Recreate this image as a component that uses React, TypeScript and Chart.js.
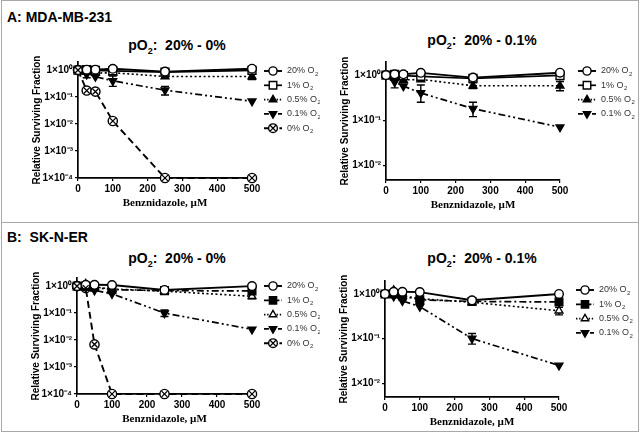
import React, { useEffect, useRef } from 'react';
import { Chart, registerables } from 'chart.js';
import { drawPoint } from 'chart.js/helpers';

Chart.register(...registerables);

// ---------- data ----------
const doses = [0, 25, 50, 100, 250, 500];
const xTicks = [0, 100, 200, 300, 400, 500];
const yTicksWide = [1e-4, 1e-3, 1e-2, 1e-1, 1];
const yTickTextWide = ['1×10⁻⁴', '1×10⁻³', '1×10⁻²', '1×10⁻¹', '1×10⁰'];
const yTicksNarrow = [1e-2, 1e-1, 1];
const yTickTextNarrow = ['1×10⁻²', '1×10⁻¹', '1×10⁰'];

const seriesLabels = ['20% O', '1% O', '0.5% O', '0.1% O', '0% O'];

// MDA-MB-231
const mda20 = [1.0, 1.04, 1.04, 1.12, 0.88, 1.13];
const mda1 = [1.0, 1.03, 0.97, 0.94, 0.84, 0.98];
const mda05 = [1.0, 0.86, 0.78, 0.8, 0.58, 0.58];
const mda01 = [1.0, 0.7, 0.57, 0.4, 0.18, 0.07];
const mda01Lo = [null, 0.52, null, 0.25, 0.12, null];
const mda01Hi = [null, 0.98, null, 0.6, 0.25, null];
const mda05Lo = [null, null, null, null, 0.5, 0.45];
const mda05Hi = [null, null, null, null, 0.68, 0.72];
const mda0 = [1.0, 0.175, 0.16, 0.013, 1e-4, 1e-4];

// SK-N-ER
const sk20 = [1.0, 1.12, 1.12, 1.1, 0.72, 1.0];
const sk1 = [1.0, 1.0, 0.9, 0.74, 0.68, 0.66];
const sk1Lo = [null, null, null, null, null, 0.56];
const sk1Hi = [null, null, null, null, null, 0.8];
const sk05 = [1.0, 1.2, 0.92, 0.78, 0.65, 0.42];
const sk05Lo = [null, null, null, null, null, 0.34];
const sk05Hi = [null, null, null, null, null, 0.5];
const sk01 = [1.0, 0.88, 0.7, 0.52, 0.1, 0.025];
const sk01Lo = [null, null, null, null, 0.075, null];
const sk01Hi = [null, null, null, null, 0.13, null];
const sk0 = [1.0, 0.85, 0.0069, 1e-4, 1e-4, 1e-4];

const panelLetterA = 'A: MDA-MB-231';
const panelLetterB = 'B:  SK-N-ER';
const titleLeft = ':  20% - 0%';
const titleRight = ':  20% - 0.1%';
const xTitle = 'Benznidazole, µM';
const yTitle = 'Relative Surviving Fraction';

// ---------- styles ----------
const FONT = 'Arial, "Liberation Sans", Helvetica, sans-serif';
const SERIF = '"Times New Roman", "Liberation Serif", serif';

type Style = { point: any; fill: string; dash: number[]; radius: number; rotation?: number; width: number; cross?: boolean };
const stC20: Style = { point: 'circle', fill: '#fff', dash: [], radius: 4.3, width: 1.9 };
const stSqA: Style = { point: 'rect', fill: '#fff', dash: [], radius: 5.6, width: 1.7 };
const stSqB: Style = { point: 'rect', fill: '#000', dash: [7, 3, 2, 3], radius: 5.4, width: 1.7 };
const stTriA: Style = { point: 'triangle', fill: '#000', dash: [2, 2.5], radius: 4.5, width: 1.6 };
const stTriB: Style = { point: 'triangle', fill: '#fff', dash: [2, 2.5], radius: 4.5, width: 1.6 };
const stInv: Style = { point: 'triangle', fill: '#000', dash: [7, 3, 2, 3, 2, 3], radius: 4.5, rotation: 180, width: 1.7 };
const stX0: Style = { point: 'circle', fill: '#fff', dash: [7, 4], radius: 4.6, width: 1.9, cross: true };

type Series = { label: string; data: number[]; st: Style; lo?: (number | null)[]; hi?: (number | null)[] };

type PanelCfg = {
  left: number; top: number; w: number; h: number;
  padTop: number; padRight: number; yW: number; xH: number;
  yMin: number; yMax: number; yTicks: number[]; yLabels: string[];
  legDx: number; legDy: number; series: Series[];
};

const mdaBase: Series[] = [
  { label: seriesLabels[0], data: mda20, st: stC20 },
  { label: seriesLabels[1], data: mda1, st: stSqA },
  { label: seriesLabels[2], data: mda05, st: stTriA, lo: mda05Lo, hi: mda05Hi },
  { label: seriesLabels[3], data: mda01, st: stInv, lo: mda01Lo, hi: mda01Hi },
];
const skBase: Series[] = [
  { label: seriesLabels[0], data: sk20, st: stC20 },
  { label: seriesLabels[1], data: sk1, st: stSqB, lo: sk1Lo, hi: sk1Hi },
  { label: seriesLabels[2], data: sk05, st: stTriB, lo: sk05Lo, hi: sk05Hi },
  { label: seriesLabels[3], data: sk01, st: stInv, lo: sk01Lo, hi: sk01Hi },
];

const panels: PanelCfg[] = [
  { left: 0, top: 50, w: 320, h: 165, padTop: 12, padRight: 68, yW: 78, xH: 37,
    yMin: 1e-4, yMax: 2, yTicks: yTicksWide, yLabels: yTickTextWide, legDx: 21, legDy: 9,
    series: [...mdaBase, { label: seriesLabels[4], data: mda0, st: stX0 }] },
  { left: 320, top: 50, w: 320, h: 165, padTop: 12, padRight: 80, yW: 66, xH: 35,
    yMin: 0.0047, yMax: 1.95, yTicks: yTicksNarrow, yLabels: yTickTextNarrow, legDx: 27, legDy: 9,
    series: mdaBase },
  { left: 0, top: 265, w: 320, h: 165, padTop: 13, padRight: 68, yW: 77, xH: 36,
    yMin: 1e-4, yMax: 2, yTicks: yTicksWide, yLabels: yTickTextWide, legDx: 21, legDy: 8,
    series: [...skBase, { label: seriesLabels[4], data: sk0, st: stX0 }] },
  { left: 320, top: 265, w: 320, h: 165, padTop: 16, padRight: 81, yW: 65, xH: 33,
    yMin: 0.0049, yMax: 1.95, yTicks: yTicksNarrow, yLabels: yTickTextNarrow, legDx: 26, legDy: 9,
    series: skBase },
];

function drawCross(ctx: CanvasRenderingContext2D, x: number, y: number) {
  ctx.save();
  ctx.strokeStyle = '#000';
  ctx.lineWidth = 1.3;
  ctx.setLineDash([]);
  ctx.beginPath();
  const d = 2.9;
  ctx.moveTo(x - d, y - d); ctx.lineTo(x + d, y + d);
  ctx.moveTo(x + d, y - d); ctx.lineTo(x - d, y + d);
  ctx.stroke();
  ctx.restore();
}

function makeConfig(p: PanelCfg): any {
  const deco = {
    id: 'deco',
    beforeDatasetsDraw(chart: any) {
      const ctx = chart.ctx;
      const xs = chart.scales.x, ys = chart.scales.y;
      ctx.save();
      ctx.strokeStyle = '#000';
      ctx.lineWidth = 1.4;
      ctx.setLineDash([]);
      p.series.forEach((s) => {
        if (!s.lo || !s.hi) return;
        s.lo.forEach((lo, i) => {
          const hi = s.hi![i];
          if (lo == null || hi == null) return;
          const x = xs.getPixelForValue(doses[i]);
          const y1 = ys.getPixelForValue(lo), y2 = ys.getPixelForValue(hi);
          ctx.beginPath();
          ctx.moveTo(x, y1); ctx.lineTo(x, y2);
          ctx.moveTo(x - 4, y1); ctx.lineTo(x + 4, y1);
          ctx.moveTo(x - 4, y2); ctx.lineTo(x + 4, y2);
          ctx.stroke();
        });
      });
      ctx.restore();
    },
    afterDatasetsDraw(chart: any) {
      const ctx = chart.ctx;
      p.series.forEach((s, di) => {
        if (!s.st.cross) return;
        chart.getDatasetMeta(di).data.forEach((pt: any) => drawCross(ctx, pt.x, pt.y));
      });
    },
    afterDraw(chart: any) {
      const ctx = chart.ctx;
      const a = chart.chartArea;
      ctx.save();
      // axis titles
      ctx.fillStyle = '#000';
      ctx.textAlign = 'center';
      ctx.textBaseline = 'middle';
      ctx.font = `bold 11px ${SERIF}`;
      ctx.fillText(xTitle, (a.left + a.right) / 2, a.bottom + 25);
      ctx.save();
      ctx.translate(a.left - 41, (a.top + a.bottom) / 2);
      ctx.rotate(-Math.PI / 2);
      ctx.font = `bold 10px ${FONT}`;
      ctx.fillText(yTitle, 0, 0);
      ctx.restore();
      // legend
      const mx = a.right + p.legDx;
      p.series.forEach((s, i) => {
        const y = a.top + p.legDy + i * 14.3;
        ctx.strokeStyle = '#000';
        ctx.lineWidth = s.st.width;
        ctx.setLineDash(s.st.dash.length ? s.st.dash.map((d) => d * 0.7) : []);
        ctx.beginPath();
        ctx.moveTo(mx - 9, y); ctx.lineTo(mx + 9, y);
        ctx.stroke();
        ctx.setLineDash([]);
        ctx.fillStyle = s.st.fill;
        ctx.lineWidth = 1.4;
        drawPoint(ctx, { pointStyle: s.st.point, radius: s.st.radius * 0.95, rotation: s.st.rotation || 0, borderWidth: 1.4 } as any, mx, y);
        if (s.st.cross) drawCross(ctx, mx, y);
        ctx.fillStyle = '#333';
        ctx.textAlign = 'left';
        ctx.font = `9px ${FONT}`;
        const tx = mx + 14;
        ctx.fillText(s.label, tx, y);
        const w = ctx.measureText(s.label).width;
        ctx.font = `6px ${FONT}`;
        ctx.fillText('2', tx + w + 0.5, y + 3);
      });
      ctx.restore();
    },
  };

  const datasets = p.series.map((s) => ({
    label: s.label,
    data: doses.map((x, i) => ({ x, y: s.data[i] })),
    borderColor: '#000',
    borderWidth: s.st.width,
    borderDash: s.st.dash,
    pointStyle: s.st.point,
    pointRadius: s.st.radius,
    pointRotation: s.st.rotation || 0,
    pointBackgroundColor: s.st.fill,
    pointBorderColor: '#000',
    pointBorderWidth: 1.4,
    clip: false,
    tension: 0,
    fill: false,
  }));

  return {
    type: 'line',
    data: { datasets },
    plugins: [deco],
    options: {
      responsive: false,
      maintainAspectRatio: false,
      animation: false,
      layout: { padding: { top: p.padTop, right: p.padRight, left: 0, bottom: 0 } },
      plugins: { legend: { display: false }, tooltip: { enabled: false }, title: { display: false } },
      scales: {
        x: {
          type: 'linear', min: 0, max: 500,
          afterBuildTicks: (s: any) => { s.ticks = xTicks.map((v) => ({ value: v })); },
          afterFit: (s: any) => { s.height = p.xH; },
          grid: { display: true, drawOnChartArea: false, drawTicks: true, tickLength: 3, color: '#000', lineWidth: 1.2 },
          border: { display: true, color: '#000', width: 1.7 },
          ticks: { color: '#000', font: { family: FONT, size: 10, weight: 'bold' }, padding: 2, maxRotation: 0, autoSkip: false,
            callback: (v: any) => String(v) },
        },
        y: {
          type: 'logarithmic', min: p.yMin, max: p.yMax,
          afterBuildTicks: (s: any) => { s.ticks = p.yTicks.map((v) => ({ value: v })); },
          afterFit: (s: any) => { s.width = p.yW; },
          grid: { display: true, drawOnChartArea: false, drawTicks: true, tickLength: 3, color: '#000', lineWidth: 1.2 },
          border: { display: true, color: '#000', width: 1.7 },
          ticks: { color: '#000', font: { family: FONT, size: 10, weight: 'bold' }, padding: 2, autoSkip: false,
            callback: (v: any) => {
              const i = p.yTicks.findIndex((t) => Math.abs(t - v) / t < 1e-6);
              return i >= 0 ? p.yLabels[i] : '';
            } },
        },
      },
    },
  };
}

function Panel({ p }: { p: PanelCfg }) {
  const ref = useRef<HTMLCanvasElement>(null);
  useEffect(() => {
    const chart = new Chart(ref.current!, makeConfig(p));
    return () => chart.destroy();
  }, []);
  return (
    <canvas ref={ref} width={p.w} height={p.h}
      style={{ position: 'absolute', left: p.left, top: p.top, width: p.w, height: p.h }} />
  );
}

function Title({ cx, cy, rest }: { cx: number; cy: number; rest: string }) {
  return (
    <div style={{ position: 'absolute', left: cx - 100, top: cy - 9, width: 200, textAlign: 'center',
      font: `bold 14px ${FONT}`, lineHeight: '18px', whiteSpace: 'pre', color: '#000' }}>
      pO<span style={{ fontSize: 9, position: 'relative', top: 4 }}>2</span>{rest}
    </div>
  );
}

export default function App() {
  return (
    <div style={{ position: 'fixed', left: 0, top: 0, width: 640, height: 433, background: '#fff', overflow: 'hidden' }}>
      <div style={{ position: 'absolute', left: 1, top: 0, width: 636, height: 430, border: '1px solid #a8a8a8' }} />
      <div style={{ position: 'absolute', left: 1, top: 222, width: 637, height: 0, borderTop: '1px solid #a8a8a8' }} />
      <div style={{ position: 'absolute', left: 7, top: 8, font: `bold 14px ${FONT}`, lineHeight: '18px', whiteSpace: 'pre' }}>{panelLetterA}</div>
      <div style={{ position: 'absolute', left: 7, top: 228, font: `bold 14px ${FONT}`, lineHeight: '18px', whiteSpace: 'pre' }}>{panelLetterB}</div>
      <Title cx={177} cy={45} rest={titleLeft} />
      <Title cx={482} cy={40} rest={titleRight} />
      <Title cx={177} cy={258} rest={titleLeft} />
      <Title cx={482} cy={258} rest={titleRight} />
      {panels.map((p, i) => <Panel key={i} p={p} />)}
    </div>
  );
}
